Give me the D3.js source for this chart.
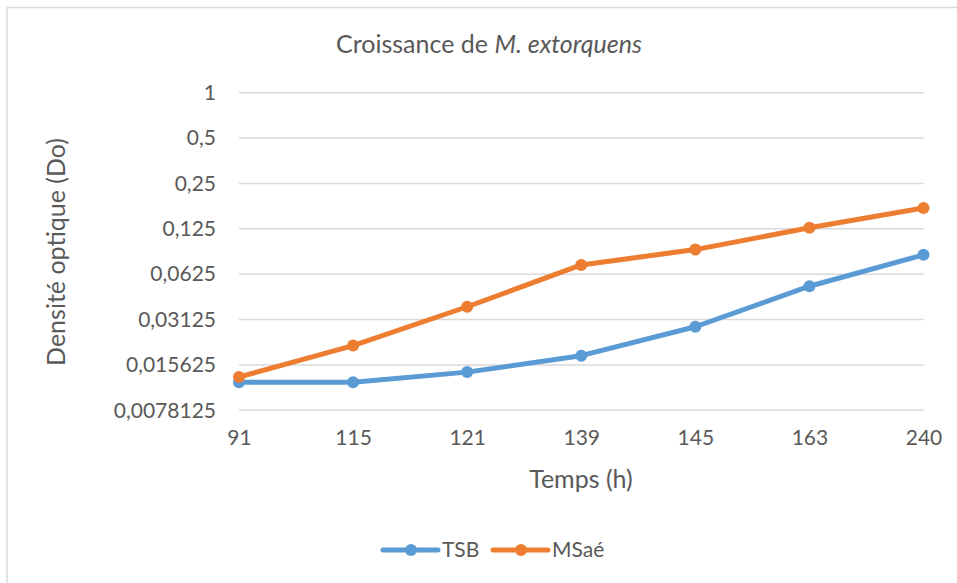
<!DOCTYPE html>
<html>
<head>
<meta charset="utf-8">
<script src="https://cdn.jsdelivr.net/npm/d3@7"></script>
<style>
  html, body { margin: 0; padding: 0; background: #fff; }
  svg { display: block; font-family: Lato, "Open Sans", sans-serif; }
</style>
</head>
<body>
<svg id="chart" width="957" height="583"></svg>
<script>
// Growth of M. extorquens: optical density over time, two media
const hours = ["91", "115", "121", "139", "145", "163", "240"];
const tsb   = [0.012, 0.012, 0.014, 0.018, 0.028, 0.052, 0.084];
const msae  = [0.013, 0.021, 0.038, 0.072, 0.091, 0.127, 0.172];
const yTicks = [1, 0.5, 0.25, 0.125, 0.0625, 0.03125, 0.015625, 0.0078125];
const seriesNames = ["TSB", "MSaé"];
const seriesColors = ["#5B9BD5", "#ED7D31"];

const svg = d3.select("#chart");
const textColor = "#595959";

// Outer frame (top and left edges)
svg.append("line").attr("x1", 7).attr("x2", 957).attr("y1", 7.5).attr("y2", 7.5)
  .attr("stroke", "#D9D9D9").attr("stroke-width", 1.5);
svg.append("line").attr("x1", 7).attr("x2", 7).attr("y1", 7.5).attr("y2", 583)
  .attr("stroke", "#D9D9D9").attr("stroke-width", 1.5);

const plot = { left: 239, right: 923.5, top: 92.7, bottom: 410.3 };

const x = d3.scalePoint().domain(hours).range([plot.left, plot.right]);
const y = d3.scaleLog().base(2).domain([0.0078125, 1]).range([plot.bottom, plot.top]);

const fmt = v => String(v).replace(".", ",");

// Horizontal gridlines
svg.append("g")
  .selectAll("line")
  .data(yTicks)
  .join("line")
  .attr("x1", plot.left).attr("x2", plot.right)
  .attr("y1", d => y(d)).attr("y2", d => y(d))
  .attr("stroke", "#D9D9D9").attr("stroke-width", 1.5);

// Y axis labels
const yAxis = d3.axisLeft(y).tickValues(yTicks).tickFormat(fmt).tickSize(0).tickPadding(0);
const gy = svg.append("g").attr("transform", `translate(${plot.left - 23},0)`).call(yAxis);
gy.select(".domain").remove();
gy.selectAll("text").attr("fill", textColor).style("font-size", "21px")
  .style("font-family", "Lato, 'Open Sans', sans-serif");

// X axis labels
const xAxis = d3.axisBottom(x).tickSize(0).tickPadding(0);
const gx = svg.append("g").attr("transform", `translate(0,${plot.bottom + 20})`).call(xAxis);
gx.select(".domain").remove();
gx.selectAll("text").attr("fill", textColor).style("font-size", "21px")
  .style("font-family", "Lato, 'Open Sans', sans-serif");

// Series lines and markers
const data = [tsb, msae];
const line = d3.line().x((d, i) => x(hours[i])).y(d => y(d));

data.forEach((vals, si) => {
  svg.append("path")
    .datum(vals)
    .attr("d", line)
    .attr("fill", "none")
    .attr("stroke", seriesColors[si])
    .attr("stroke-width", 5)
    .attr("stroke-linejoin", "round")
    .attr("stroke-linecap", "round");
  svg.append("g")
    .selectAll("circle")
    .data(vals)
    .join("circle")
    .attr("cx", (d, i) => x(hours[i]))
    .attr("cy", d => y(d))
    .attr("r", 6)
    .attr("fill", seriesColors[si]);
});

// Title
const title = svg.append("text")
  .attr("x", 489).attr("y", 53)
  .attr("text-anchor", "middle")
  .attr("fill", textColor)
  .style("font-size", "25px");
title.append("tspan").text("Croissance de ");
title.append("tspan").attr("font-style", "italic").text("M. extorquens");

// Axis titles
svg.append("text")
  .attr("x", 581).attr("y", 488)
  .attr("text-anchor", "middle")
  .attr("fill", textColor)
  .style("font-size", "25px")
  .text("Temps (h)");

svg.append("text")
  .attr("transform", "translate(65,252) rotate(-90)")
  .attr("text-anchor", "middle")
  .attr("fill", textColor)
  .style("font-size", "25px")
  .text("Densité optique (Do)");

// Legend
const legendItems = [
  { name: seriesNames[0], color: seriesColors[0], x0: 383 },
  { name: seriesNames[1], color: seriesColors[1], x0: 493 }
];
const lg = svg.append("g");
legendItems.forEach(it => {
  lg.append("line").attr("x1", it.x0).attr("x2", it.x0 + 55)
    .attr("y1", 550).attr("y2", 550)
    .attr("stroke", it.color).attr("stroke-width", 5).attr("stroke-linecap", "round");
  lg.append("circle").attr("cx", it.x0 + 28).attr("cy", 550).attr("r", 6).attr("fill", it.color);
  lg.append("text").attr("x", it.x0 + 59).attr("y", 557)
    .attr("fill", textColor).style("font-size", "21px").text(it.name);
});
</script>
</body>
</html>
